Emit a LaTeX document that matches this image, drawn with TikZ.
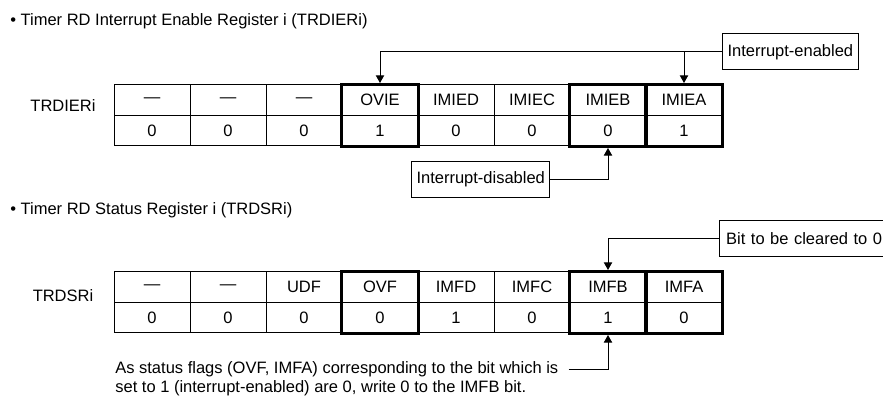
\documentclass[tikz,border=0pt]{standalone}
\usepackage{fontspec}
\setmainfont{Liberation Sans}
\usepackage{tikz}
\usetikzlibrary{arrows.meta, positioning}
\newcommand{\texte}{\fontsize{9.9}{11.1}\selectfont}
\newcommand{\tiret}{\raisebox{-1.2pt}{—}}
\tikzset{
  case/.style={rectangle, draw, line width=0.6pt, minimum width=45.6pt,
    minimum height=18.3pt, inner sep=0pt, font=\texte},
  epais/.style={line width=2.1pt},
  cadre/.style={rectangle, draw, line width=0.6pt, inner xsep=3pt,
    inner ysep=0pt, minimum height=21.6pt, font=\texte, anchor=west},
  titre/.style={font=\texte, inner sep=0pt, anchor=west},
  nomreg/.style={font=\texte, inner sep=0pt},
  note/.style={font=\texte, inner xsep=6pt, inner ysep=0pt,
    text height=7.5pt, text depth=3.6pt, anchor=west},
  fleche/.style={-{Triangle[length=4.6pt, width=5pt]}, line width=0.6pt,
    shorten >=0.9pt}
}
\begin{document}
\begin{tikzpicture}[x=0.6pt, y=-0.6pt]
    \useasboundingbox (0,0) rectangle (883,396);
    \clip (0,0) rectangle (883,396);

    % registre TRDIERi
    \node[titre] (titre1) at (10,21) {• Timer RD Interrupt Enable Register i (TRDIERi)};
    \node[nomreg] (reg1) at (63,106) {TRDIERi};
    \foreach \nom/\val [count=\i] in {\tiret/0, \tiret/0, \tiret/0, OVIE/1, IMIED/0, IMIEC/0, IMIEB/0, IMIEA/1} {
      \node[case] (ier-\i-h) at ({114+76*(\i-0.5)},100.25) {\nom};
      \node[case] (ier-\i-v) at ({114+76*(\i-0.5)},130.75) {\val};
    }
    \foreach \i in {4,7,8}
      \draw[epais] (ier-\i-h.north west) rectangle (ier-\i-v.south east);

    \node[cadre] (actif) at (722,52) {Interrupt-enabled};
    \node[cadre] (inactif) at (411,179.5) {Interrupt-disabled};
    \draw[fleche] (actif.west) -| (ier-4-h.north);
    \draw[fleche] (ier-8-h.north |- actif.west) -- (ier-8-h.north);
    \draw[fleche] (inactif.east) -| (ier-7-v.south);

    % registre TRDSRi
    \node[titre] (titre2) at (10,210) {• Timer RD Status Register i (TRDSRi)};
    \node[nomreg] (reg2) at (63,296) {TRDSRi};
    \foreach \nom/\val [count=\i] in {\tiret/0, \tiret/0, UDF/0, OVF/0, IMFD/1, IMFC/0, IMFB/1, IMFA/0} {
      \node[case] (sr-\i-h) at ({114+76*(\i-0.5)},287.25) {\nom};
      \node[case] (sr-\i-v) at ({114+76*(\i-0.5)},317.75) {\val};
    }
    \foreach \i in {4,7,8}
      \draw[epais] (sr-\i-h.north west) rectangle (sr-\i-v.south east);

    \node[cadre, minimum width=105pt, align=left, text width=97pt] (efface) at (719,239) {Bit to be cleared to 0};
    \node[note] (note1) at (105,370) {As status flags (OVF, IMFA) corresponding to the bit which is};
    \node[note, below=0pt of note1.south west, anchor=north west] (note2) {set to 1 (interrupt-enabled) are 0, write 0 to the IMFB bit.};
    \draw[fleche] (efface.west) -| (sr-7-h.north);
    \draw[fleche] (note1.east) -| (sr-7-v.south);
  \end{tikzpicture}
\end{document}
